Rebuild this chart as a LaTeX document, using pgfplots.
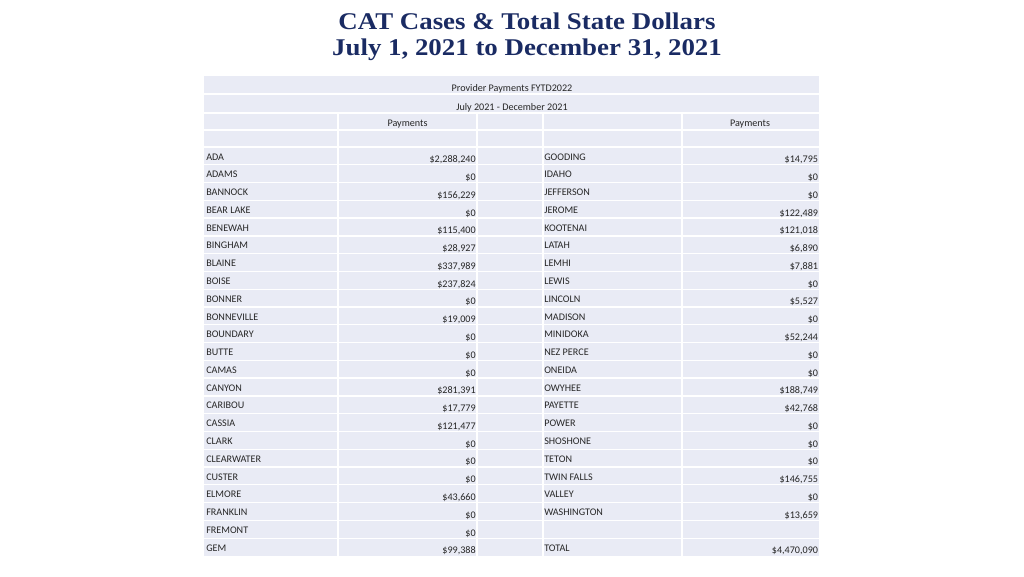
\documentclass[border=0pt]{standalone}
\usepackage{pgfplots}
\pgfplotsset{compat=1.18}
\usepackage{pgfplotstable}
\usepackage{fontspec}
\setmainfont{Carlito}
\newfontfamily\titlefont{Liberation Serif}

\definecolor{cellbg}{HTML}{E9EBF5}
\definecolor{titleblue}{HTML}{1A2B63}
\definecolor{celltext}{HTML}{262626}

% left half of the table: row, county, payments
\pgfplotstableread{
row name value
0 ADA {\$2,288,240}
1 ADAMS {\$0}
2 BANNOCK {\$156,229}
3 {BEAR LAKE} {\$0}
4 BENEWAH {\$115,400}
5 BINGHAM {\$28,927}
6 BLAINE {\$337,989}
7 BOISE {\$237,824}
8 BONNER {\$0}
9 BONNEVILLE {\$19,009}
10 BOUNDARY {\$0}
11 BUTTE {\$0}
12 CAMAS {\$0}
13 CANYON {\$281,391}
14 CARIBOU {\$17,779}
15 CASSIA {\$121,477}
16 CLARK {\$0}
17 CLEARWATER {\$0}
18 CUSTER {\$0}
19 ELMORE {\$43,660}
20 FRANKLIN {\$0}
21 FREMONT {\$0}
22 GEM {\$99,388}
}\lefttable

% right half of the table
\pgfplotstableread{
row name value
0 GOODING {\$14,795}
1 IDAHO {\$0}
2 JEFFERSON {\$0}
3 JEROME {\$122,489}
4 KOOTENAI {\$121,018}
5 LATAH {\$6,890}
6 LEMHI {\$7,881}
7 LEWIS {\$0}
8 LINCOLN {\$5,527}
9 MADISON {\$0}
10 MINIDOKA {\$52,244}
11 {NEZ PERCE} {\$0}
12 ONEIDA {\$0}
13 OWYHEE {\$188,749}
14 PAYETTE {\$42,768}
15 POWER {\$0}
16 SHOSHONE {\$0}
17 TETON {\$0}
18 {TWIN FALLS} {\$146,755}
19 VALLEY {\$0}
20 WASHINGTON {\$13,659}
22 TOTAL {\$4,470,090}
}\righttable

\newcommand{\cellfont}{\fontsize{7.6}{9}\selectfont}

\begin{document}
\begin{tikzpicture}
\begin{axis}[
  scale only axis, width=768pt, height=432pt,
  xmin=0, xmax=1024, ymin=0, ymax=576, y dir=reverse,
  hide axis, clip=false,
  every node near coord/.append style={inner sep=0pt, font=\cellfont, text=celltext},
]
% keep the page at the full slide size
\addplot[draw=none] coordinates {(0,0) (1024,576)};

% table body
\fill[cellbg] (axis cs:204,76) rectangle (axis cs:819,556);
\pgfplotsinvokeforeach{94,113,130}{
  \draw[white, line width=1pt] (axis cs:204,#1) -- (axis cs:819,#1);
}
\pgfplotsinvokeforeach{0,...,22}{
  \draw[white, line width=1pt] (axis cs:204,{147+17.78*#1}) -- (axis cs:819,{147+17.78*#1});
}
\pgfplotsinvokeforeach{338,477,543,682}{
  \draw[white, line width=1pt] (axis cs:#1,113) -- (axis cs:#1,556);
}

% headers
\node[anchor=base, font=\cellfont, text=celltext, inner sep=0pt] at (axis cs:512,91.7) {Provider Payments FYTD2022};
\node[anchor=base, font=\cellfont, text=celltext, inner sep=0pt] at (axis cs:512,110.5) {July 2021 - December 2021};
\node[anchor=base, font=\cellfont, text=celltext, inner sep=0pt] at (axis cs:407.5,126.7) {Payments};
\node[anchor=base, font=\cellfont, text=celltext, inner sep=0pt] at (axis cs:750,126.7) {Payments};

% county names and payments
\addplot[draw=none, mark=none, nodes near coords, point meta=explicit symbolic,
  every node near coord/.append style={anchor=base west}]
  table[x expr=206, y expr=160+17.78*\thisrow{row}, meta=name] {\lefttable};
\addplot[draw=none, mark=none, nodes near coords, point meta=explicit symbolic,
  every node near coord/.append style={anchor=base east}]
  table[x expr=476, y expr=162.7+17.78*\thisrow{row}, meta=value] {\lefttable};
\addplot[draw=none, mark=none, nodes near coords, point meta=explicit symbolic,
  every node near coord/.append style={anchor=base west}]
  table[x expr=544, y expr=160+17.78*\thisrow{row}, meta=name] {\righttable};
\addplot[draw=none, mark=none, nodes near coords, point meta=explicit symbolic,
  every node near coord/.append style={anchor=base east}]
  table[x expr=818.3, y expr=162.7+17.78*\thisrow{row}, meta=value] {\righttable};

% slide title
\node[anchor=base, inner sep=0pt, text=titleblue, font=\titlefont\bfseries\fontsize{18}{20}\selectfont] at (axis cs:527,29.3) {\scalebox{1.12}[1]{CAT Cases \& Total State Dollars}};
\node[anchor=base, inner sep=0pt, text=titleblue, font=\titlefont\bfseries\fontsize{18}{20}\selectfont] at (axis cs:527,55) {\scalebox{1.12}[1]{July 1, 2021 to December 31, 2021}};
\end{axis}
\end{tikzpicture}
\end{document}
